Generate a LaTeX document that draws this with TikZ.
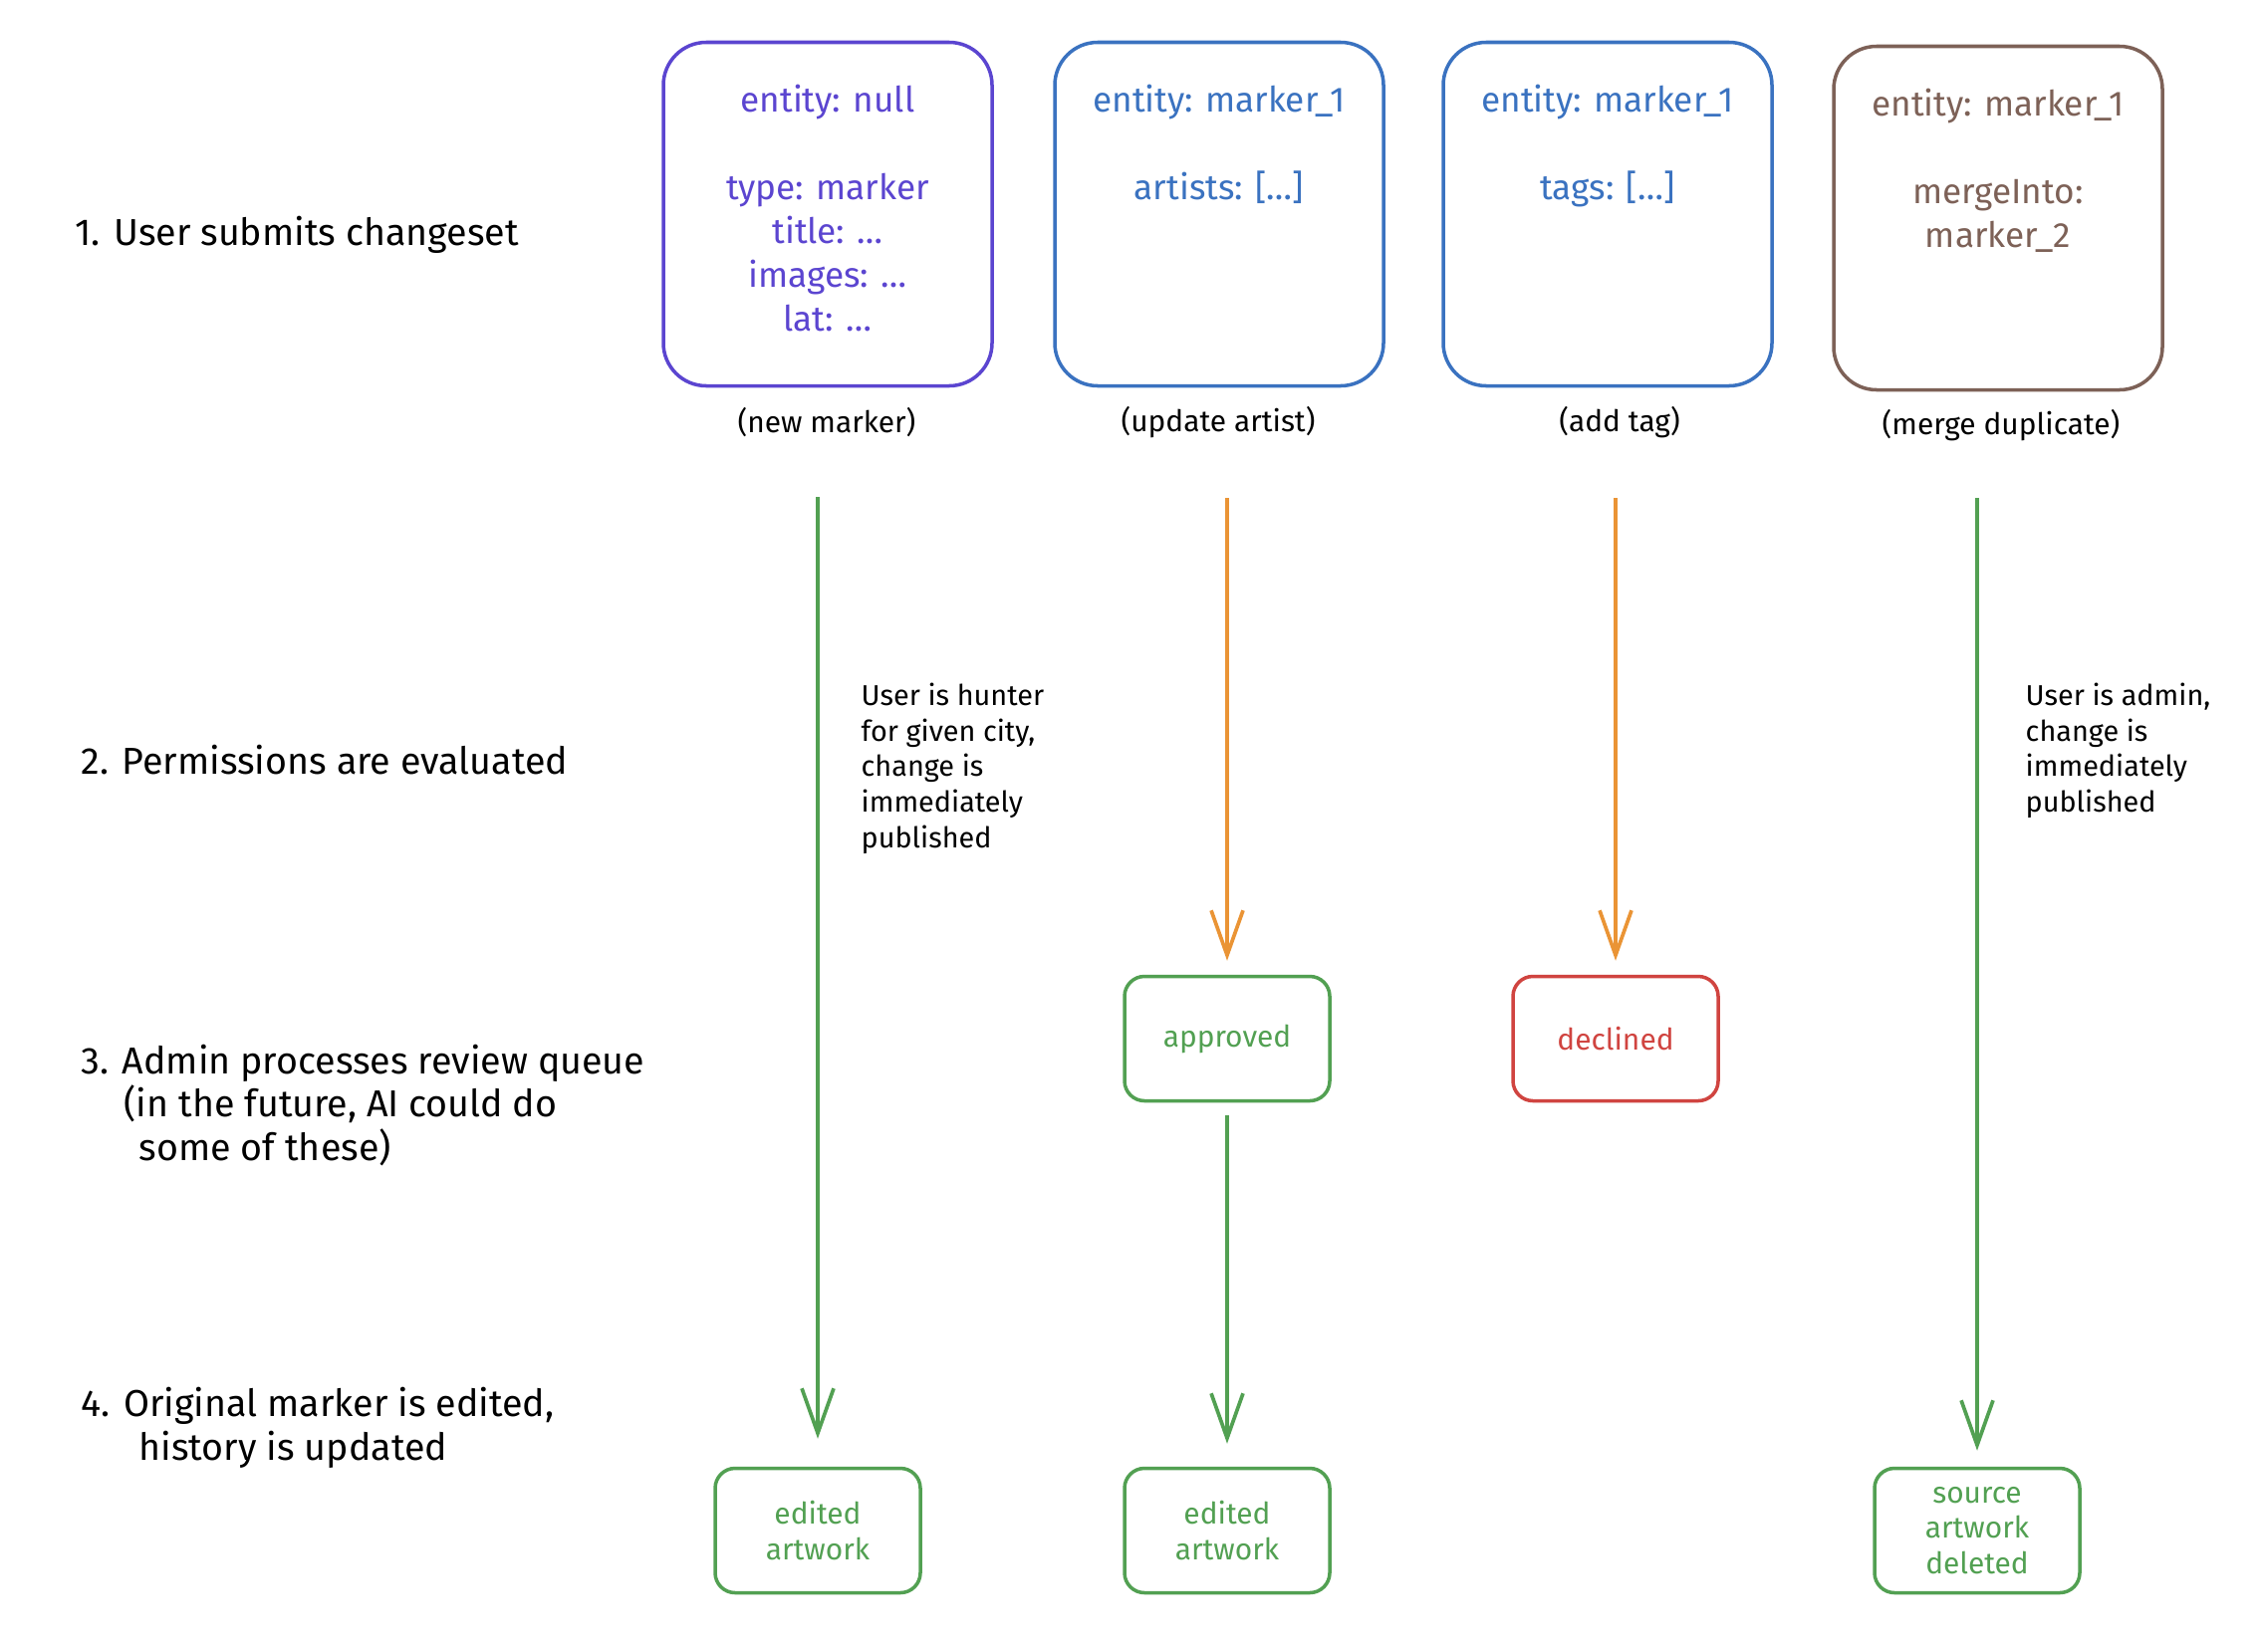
\documentclass[tikz,border=0pt]{standalone}
\usepackage{fontspec}
\setmainfont{Fira Sans}
\usetikzlibrary{arrows.meta,positioning,calc}
\definecolor{purp}{HTML}{5B45D0}
\definecolor{azure}{HTML}{3A72C0}
\definecolor{umber}{HTML}{7D6157}
\definecolor{leaf}{HTML}{52A052}
\definecolor{amber}{HTML}{EA9435}
\definecolor{brick}{HTML}{D04440}
\begin{document}
\begin{tikzpicture}[x=.1mm,y=-.1mm,
  card/.style={draw=#1,line width=1pt,rounded corners=4.3mm,minimum width=33mm,minimum height=34.5mm},
  cardtxt/.style={text=#1,anchor=north,align=center,inner sep=0pt,font=\fontsize{10}{12.5}\selectfont},
  outcome/.style={draw=#1,text=#1,line width=1pt,rounded corners=2mm,minimum width=20.6mm,minimum height=12.5mm,align=center,font=\fontsize{8.5}{10}\selectfont},
  caption/.style={inner sep=1pt,font=\fontsize{8.5}{10}\selectfont},
  stage/.style={anchor=west,align=left,inner sep=0pt,font=\fontsize{10.7}{12.5}\selectfont},
  note/.style={anchor=north west,align=left,inner sep=0pt,font=\fontsize{8.2}{10.2}\selectfont},
  flow/.style={draw=#1,line width=1.05pt,-{Straight Barb[length=4.5mm,width=3.2mm]}}]
\useasboundingbox (0,0) rectangle (2270,1658);
% step labels
\node[stage] (s1) at (75,236) {1. User submits changeset};
\node[stage] (s2) at (81,763) {2. Permissions are evaluated};
\node[stage] (s3) at (81,1110) {3. Admin processes review queue\\\hspace*{4.3mm}(in the future, AI could do\\\hspace*{5.8mm}some of these)};
\node[stage] (s4) at (81,1434) {4. Original marker is edited,\\\hspace*{5.8mm}history is updated};
% changesets
\node[card=purp] (c1) at (831,215) {};
\node[card=azure] (c2) at (1224,215) {};
\node[card=azure] (c3) at (1614,215) {};
\node[card=umber] (c4) at (2006,219) {};
\node[cardtxt=purp] at ([yshift=-4.4mm]c1.north) {entity: null\\[12.5pt]type: marker\\title: \dots\\images: \dots\\lat: \dots};
\node[cardtxt=azure] at ([yshift=-4.4mm]c2.north) {entity: marker\_1\\[12.5pt]artists: [\dots]};
\node[cardtxt=azure] at ([yshift=-4.4mm]c3.north) {entity: marker\_1\\[12.5pt]tags: [\dots]};
\node[cardtxt=umber] at ([yshift=-4.4mm]c4.north) {entity: marker\_1\\[12.5pt]mergeInto:\\marker\_2};
\node[caption] (k1) at (830,424) {(new marker)};
\node[caption] (k2) at (1223,424) {(update artist)};
\node[caption] (k3) at (1626,424) {(add tag)};
\node[caption] (k4) at (2009,427) {(merge duplicate)};
% results
\node[outcome=leaf] (ok) at (1232,1043) {approved};
\node[outcome=brick] (no) at (1622,1043) {declined};
\node[outcome=leaf] (e1) at (821,1537) {edited\\artwork};
\node[outcome=leaf] (e2) at (1232,1537) {edited\\artwork};
\node[outcome=leaf] (e3) at (1985,1537) {source\\artwork\\deleted};
\draw[flow=leaf,shorten <=5.6mm,shorten >=2.8mm] (e1.north |- k1.south) -- (e1.north);
\draw[flow=amber,shorten <=5.6mm,shorten >=1.4mm] (ok.north |- k2.south) -- (ok.north);
\draw[flow=amber,shorten <=5.6mm,shorten >=1.4mm] (no.north |- k3.south) -- (no.north);
\draw[flow=leaf,shorten <=5.3mm,shorten >=1.6mm] (e3.north |- k4.south) -- (e3.north);
\draw[flow=leaf,shorten <=1.3mm,shorten >=2.3mm] (ok.south) -- (e2.north);
\node[note] (n1) at (864,685) {User is hunter\\for given city,\\change is\\immediately\\published};
\node[note] (n2) at (2033,685) {User is admin,\\change is\\immediately\\published};
\end{tikzpicture}
\end{document}
